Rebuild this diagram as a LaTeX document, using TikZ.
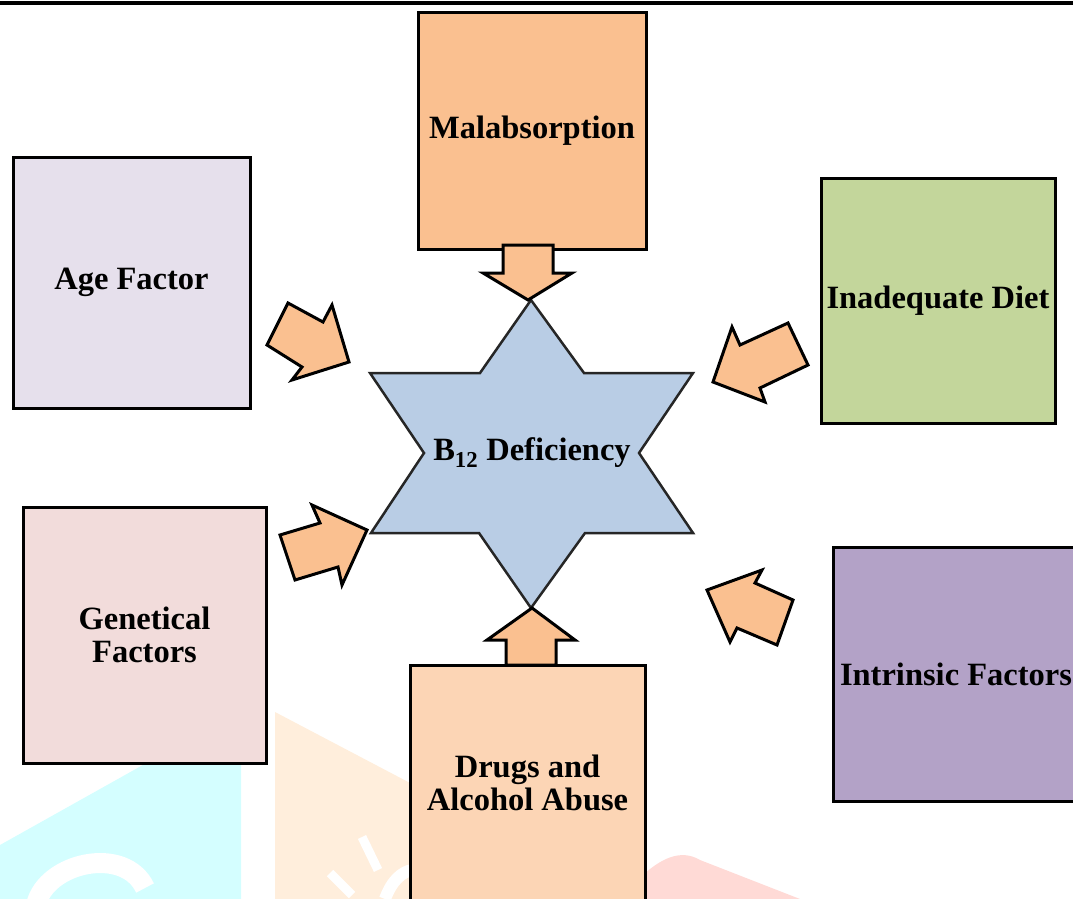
\documentclass[tikz,border=0pt]{standalone}
\usepackage{fontspec}
\setmainfont{Liberation Serif}
\definecolor{malab}{HTML}{FAC090}
\definecolor{agec}{HTML}{E6E0EC}
\definecolor{dietc}{HTML}{C3D69B}
\definecolor{genc}{HTML}{F2DCDB}
\definecolor{drugc}{HTML}{FCD5B5}
\definecolor{intrc}{HTML}{B3A2C7}
\definecolor{starc}{HTML}{B9CDE5}
\definecolor{arrowc}{HTML}{FAC090}
\definecolor{wmcyan}{HTML}{D4FEFF}
\definecolor{wmpeach}{HTML}{FFEEDC}
\definecolor{wmpink}{HTML}{FFDAD6}
\begin{document}
\begin{tikzpicture}[x=1pt,y=-1pt,
  box/.style={draw=black, line width=3pt, inner sep=0pt, align=center,
    font=\fontsize{32.5}{33}\selectfont\bfseries},
  blockarrow/.style={draw=black, line width=3pt, fill=arrowc, line join=miter},
  starshape/.style={draw=black!85, line width=2.5pt, fill=starc, line join=miter},
  wmline/.style={white, line width=9pt}
]
\useasboundingbox (0,0) rectangle (1073,899);
\begin{scope}
\clip (0,0) rectangle (1073,899);
% faint background watermark
\fill[wmcyan] (0,845) -- (150,761) -- (241,761) -- (241,899) -- (0,899) -- cycle;
\draw[white, line width=20pt] (36,905) .. controls (46,862) and (125,845) .. (145,888);
\fill[wmcyan] (70,885) rectangle (92,899);
\fill[wmpeach] (275,712) -- (412,784) -- (412,899) -- (275,899) -- cycle;
\draw[wmline] (362,837) -- (378,870);
\draw[wmline] (330,873) -- (352,895);
\draw[white, line width=12pt] (385,899) .. controls (392,880) and (402,872) .. (412,870);
\fill[wmpink] (644,874) .. controls (660,860) and (680,848) .. (700,860) -- (800,899) -- (644,899) -- cycle;
% top rule
\fill[black] (0,1) rectangle (1073,5);
% boxes
\node[box, fill=malab, minimum width=228pt, minimum height=236pt] (mal) at (532,131) {Malabsorption};
\node[box, fill=agec, minimum width=237pt, minimum height=251pt] (age) at (131.5,282.5) {Age Factor};
\node[box, fill=dietc, minimum width=234pt, minimum height=245pt] (diet) at (938,300.5) {Inadequate Diet};
\node[box, fill=genc, minimum width=243pt, minimum height=256pt] (gen) at (144.5,635) {Genetical\\Factors};
\node[box, fill=drugc, minimum width=235pt, minimum height=236pt] (drug) at (527.5,783) {Drugs and\\Alcohol Abuse};
\node[box, fill=intrc, minimum width=246pt, minimum height=254pt] (intr) at (956,674) {Intrinsic Factors};
% star
\draw[starshape] (531,300) -- (480,373) -- (370,373) -- (424,453) -- (371,533) -- (479,533)
  -- (531,608) -- (585,533) -- (693,533) -- (639,453) -- (693,373) -- (584,373) -- cycle;
\node[font=\fontsize{32.5}{33}\selectfont\bfseries, inner sep=0pt] (b12) at (532,453) {B\textsubscript{12} Deficiency};
% block arrows
\draw[blockarrow] (503,245) -- (553,245) -- (553,273) -- (572,273) -- (528,300) -- (483,273) -- (503,273) -- cycle;
\draw[blockarrow] (532,608) -- (575,640) -- (556,640) -- (556,665) -- (506,665) -- (506,640) -- (487,640) -- cycle;
\draw[blockarrow] (267,345) -- (288,303) -- (323,322) -- (332,305) -- (349,362) -- (292,380) -- (302,367) -- cycle;
\draw[blockarrow] (713,382) -- (732,327) -- (740,345) -- (788,323) -- (808,365) -- (760,388) -- (765,402) -- cycle;
\draw[blockarrow] (280,535) -- (320,523) -- (312,505) -- (367,530) -- (342,585) -- (338,567) -- (295,580) -- cycle;
\draw[blockarrow] (707,590) -- (762,570) -- (755,583) -- (793,600) -- (777,645) -- (737,628) -- (730,642) -- cycle;
\end{scope}
\end{tikzpicture}
\end{document}
